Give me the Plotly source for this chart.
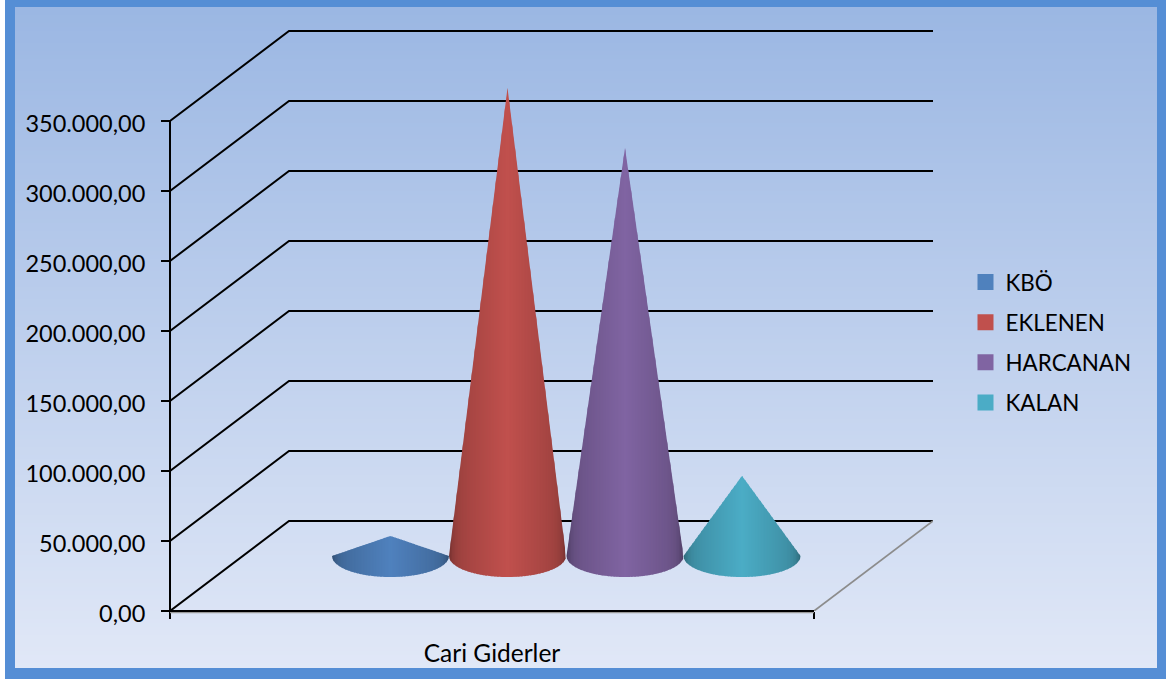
import math
import plotly.graph_objects as go

series_names = ["KBÖ", "EKLENEN", "HARCANAN", "KALAN"]
series_values = [14300, 334300, 291400, 57200]
series_colors = ["#4F81BD", "#C0504D", "#8064A2", "#4BACC6"]
category_labels = ["Cari Giderler"]
y_tick_values = [0, 50000, 100000, 150000, 200000, 250000, 300000, 350000]
y_tick_labels = ["0,00", "50.000,00", "100.000,00", "150.000,00",
                 "200.000,00", "250.000,00", "300.000,00", "350.000,00"]

W, H = 1166, 681
L, R, T, B = 170, 233, 21, 70
PLOT_W, PLOT_H = W - L - R, H - T - B
UNITS_PER_PX = 50000 / 70
FONT = "Lato"


def px_h(p):
    return p * UNITS_PER_PX

DEPTH_X, DEPTH_Y = 119, px_h(90)
FRONT_W = 644

fig = go.Figure()


def line(xs, ys, color="#000000", width=2):
    fig.add_trace(go.Scatter(x=xs, y=ys, mode="lines", showlegend=False, hoverinfo="skip",
                             cliponaxis=False, line=dict(color=color, width=width, simplify=False)))

# gridlines sheared along the depth of the 3D floor and wall
for v in y_tick_values:
    line([0, DEPTH_X, DEPTH_X + FRONT_W], [v, v + DEPTH_Y, v + DEPTH_Y])
# floor right edge
line([FRONT_W, FRONT_W + DEPTH_X], [0, DEPTH_Y], color="#8C8C8C", width=1.7)


def shade(hex_color, k):
    r, g, b = (int(hex_color[i:i + 2], 16) for i in (1, 3, 5))
    return f"rgb({round(r * k)},{round(g * k)},{round(b * k)})"

# cones: vertical shaded strips between the silhouette and the front of the base ellipse
CONE_CENTERS = [220.5, 337.5, 455, 572]
CONE_A, CONE_B = 58.5, px_h(21)
BASE_Y = px_h(55)
N = 78
OVERLAP = 0.5
for name, value, color, cx in zip(series_names, series_values, series_colors, CONE_CENTERS):
    h = value

    def top(t):
        return BASE_Y + h * (1 - abs(t))

    def bottom(t):
        return BASE_Y - CONE_B * math.sqrt(max(0.0, 1 - t * t))

    for k in range(N):
        t0 = -1 + 2 * k / N
        t1 = min(1.0, t0 + 2 / N + OVERLAP / CONE_A)
        mid = abs((t0 + t0 + 2 / N) / 2)
        f = 1 - 0.20 * mid - 0.20 * mid ** 12
        c = shade(color, f)
        ts = [t0, t1]
        if t0 < 0 < t1:
            ts = [t0, 0.0, t1]
        tt = [t0 + (t1 - t0) * j / 4 for j in range(5)]
        xs = [cx + CONE_A * t for t in ts] + [cx + CONE_A * t for t in reversed(tt)]
        ys = [top(t) for t in ts] + [bottom(t) for t in reversed(tt)]
        fig.add_trace(go.Scatter(x=xs + xs[:1], y=ys + ys[:1], mode="lines", fill="toself", fillcolor=c,
                                 line=dict(color=c, width=0), showlegend=False,
                                 hoverinfo="skip", cliponaxis=False))

# legend entries
for name, color in zip(series_names, series_colors):
    fig.add_trace(go.Scatter(x=[None], y=[None], mode="markers", name=name, legendgroup=name,
                             marker=dict(symbol="square", size=16, color=color)))


def fx(p):
    return (p - L) / PLOT_W


def fy(p):
    return 1 - (p - T) / PLOT_H

shapes = [dict(type="rect", xref="paper", yref="paper", layer="below", line_width=0,
               x0=fx(5), x1=fx(1166), y0=fy(0), y1=fy(679), fillcolor="#558ED5")]
TOP = (155, 183, 227)
BOT = (225, 232, 247)
IN_T, IN_B = 7, 668
STEP = 4
for p in range(IN_T, IN_B, STEP):
    u = (p - IN_T) / (IN_B - IN_T)
    col = tuple(round(TOP[i] + (BOT[i] - TOP[i]) * u) for i in range(3))
    shapes.append(dict(type="rect", xref="paper", yref="paper", layer="below", line_width=0,
                       x0=fx(15), x1=fx(1157), y0=fy(p), y1=fy(min(p + STEP + 1, IN_B)),
                       fillcolor=f"rgb{col}"))
# black front edge of the floor with its grey underside, and the value axis line
shapes.append(dict(type="line", xref="paper", yref="paper", layer="above", x0=fx(170), x1=fx(814),
                   y0=fy(612.6), y1=fy(612.6), line=dict(color="#9A9A9A", width=1.2)))
shapes.append(dict(type="line", xref="paper", yref="paper", layer="above", x0=fx(170), x1=fx(814),
                   y0=fy(611), y1=fy(611), line=dict(color="#000000", width=2)))
shapes.append(dict(type="line", xref="paper", yref="paper", layer="above", x0=fx(170), x1=fx(170),
                   y0=fy(120), y1=fy(612), line=dict(color="#000000", width=2)))

fig.update_layout(
    width=W, height=H, autosize=False,
    margin=dict(l=L, r=R, t=T, b=B, pad=0),
    paper_bgcolor="#FFFFFF", plot_bgcolor="rgba(0,0,0,0)",
    font=dict(family=FONT, size=23, color="#000000"),
    shapes=shapes,
    hovermode=False,
    xaxis=dict(range=[0, PLOT_W], tickmode="array", tickvals=[322], ticktext=category_labels,
               showgrid=False, zeroline=False, showline=False, ticks="outside", ticklen=21,
               tickcolor="rgba(0,0,0,0)", tickfont=dict(family=FONT, size=24.5), fixedrange=True,
               minor=dict(tickmode="array", tickvals=[0, FRONT_W], ticks="outside", ticklen=7,
                          tickwidth=2, tickcolor="#000000", showgrid=False)),
    yaxis=dict(range=[0, PLOT_H * UNITS_PER_PX], tickmode="array", tickvals=y_tick_values,
               ticktext=y_tick_labels, showgrid=False, zeroline=False, showline=False,
               ticks="outside", ticklen=8, tickwidth=2, tickcolor="#000000",
               ticklabelstandoff=11, ticklabelshift=3, tickfont=dict(family=FONT, size=23.5),
               fixedrange=True),
    legend=dict(x=fx(965.5), y=fy(261), xanchor="left", yanchor="top", tracegroupgap=8,
                bgcolor="rgba(0,0,0,0)", itemsizing="trace", font=dict(family=FONT, size=22.4),
                itemclick=False, itemdoubleclick=False),
)

fig.write_html("out.html", config={"displayModeBar": False},
               post_script="document.body.style.margin='0';document.body.style.overflow='hidden';")
